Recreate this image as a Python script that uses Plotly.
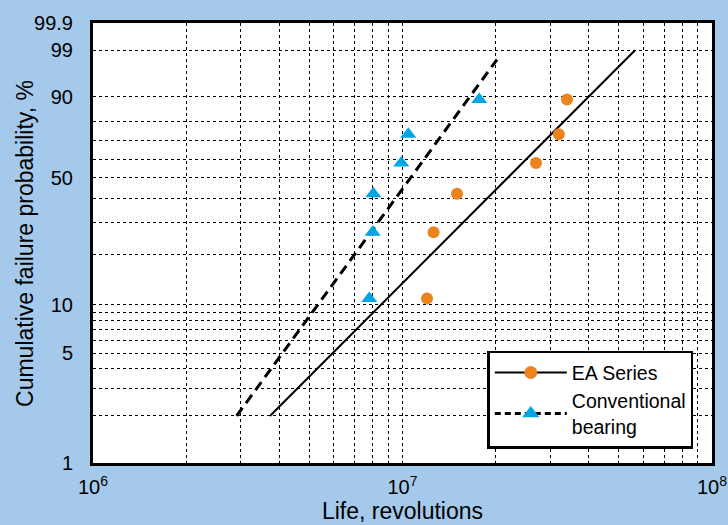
import numpy as np
import plotly.graph_objects as go

# ---- data ----
ea_life = [1.20e7, 1.26e7, 1.50e7, 2.70e7, 3.20e7, 3.40e7]
ea_prob = [10.9, 26.6, 42.2, 57.8, 73.4, 89.1]
conv_life = [7.81e6, 8.01e6, 8.05e6, 9.91e6, 1.044e7, 1.77e7]
conv_prob = [10.9, 26.6, 42.2, 57.8, 73.4, 89.1]

ea_fit_life = [3.73e6, 5.64e7]
ea_fit_prob = [2.0, 99.0]
conv_fit_life = [2.91e6, 2.02e7]
conv_fit_prob = [2.0, 98.2]

y_grid = [2, 3, 4, 5, 6, 7, 8, 9, 10, 20, 30, 40, 50, 60, 70, 80, 90, 99]
y_label_vals = [1, 5, 10, 50, 90, 99, 99.9]
y_label_text = ["1", "5", "10", "50", "90", "99", "99.9"]
x_decades = [1e6, 1e7, 1e8]
x_decade_labels = ["10<sup>6</sup>", "10<sup>7</sup>", "10<sup>8</sup>"]
x_grid = [m * d for d in [1e6, 1e7] for m in range(2, 11)]


def weib(p):
    p = np.asarray(p, dtype=float) / 100.0
    return np.log(-np.log(1.0 - p))


orange = "#EB841E"
blue = "#00A5E3"
bg = "#A4C9EB"

fig = go.Figure()

# fitted lines
fig.add_trace(go.Scatter(x=ea_fit_life, y=weib(ea_fit_prob), mode="lines",
                         line=dict(color="black", width=2), showlegend=False,
                         hoverinfo="skip"))
fig.add_trace(go.Scatter(x=conv_fit_life, y=weib(conv_fit_prob), mode="lines",
                         line=dict(color="black", width=3, dash="10px,6px"),
                         showlegend=False, hoverinfo="skip"))

# points
fig.add_trace(go.Scatter(x=ea_life, y=weib(ea_prob), mode="markers",
                         marker=dict(symbol="circle", size=12, color=orange),
                         showlegend=False))
fig.add_trace(go.Scatter(x=conv_life, y=weib(conv_prob), mode="markers",
                         marker=dict(symbol="triangle-up", size=14, color=blue),
                         showlegend=False))

# legend entries
fig.add_trace(go.Scatter(x=[None], y=[None], mode="lines+markers", name="EA Series",
                         line=dict(color="black", width=2),
                         marker=dict(symbol="circle", size=13, color=orange)))
fig.add_trace(go.Scatter(x=[None], y=[None], mode="lines+markers",
                         name="Conventional<br>bearing",
                         line=dict(color="black", width=3, dash="6px,4px"),
                         marker=dict(symbol="triangle-up", size=15, color=blue)))

font = "Liberation Sans, Arial, sans-serif"

grid_style = dict(showgrid=True, gridcolor="black", griddash="dot", gridwidth=1)

fig.update_layout(
    width=728, height=525,
    paper_bgcolor=bg, plot_bgcolor="white",
    margin=dict(l=93, r=16, t=23, b=62),
    font=dict(family=font, size=19, color="black"),
    showlegend=True,
    legend=dict(x=0.637, y=0.255, xanchor="left", yanchor="top",
                bgcolor="white", bordercolor="black", borderwidth=2.5,
                font=dict(size=19.5), itemwidth=72, tracegroupgap=0),
    xaxis=dict(type="log", range=[6, 8], tickmode="array",
               tickvals=x_decades, ticktext=x_decade_labels,
               showgrid=False,
               minor=dict(tickmode="array", tickvals=x_grid, ticks="", **grid_style),
               showline=True, linecolor="black", linewidth=3, mirror=True,
               ticks="", zeroline=False, tickfont=dict(size=20),
               ticklabelstandoff=4, automargin=False,
               title=dict(text="Life, revolutions", font=dict(size=23), standoff=5)),
    yaxis=dict(range=[float(weib(1)), float(weib(99.9))], tickmode="array",
               tickvals=list(weib(y_label_vals)), ticktext=y_label_text,
               showgrid=False,
               minor=dict(tickmode="array", tickvals=list(weib(y_grid)), ticks="",
                          **grid_style),
               showline=True, linecolor="black", linewidth=3, mirror=True,
               ticks="", zeroline=False, tickfont=dict(size=20),
               ticklabelstandoff=13, automargin=False),
    annotations=[dict(text="Cumulative failure probability, %", textangle=-90,
                      xref="paper", yref="paper", x=-0.1099, y=0.5,
                      xanchor="center", yanchor="middle", showarrow=False,
                      font=dict(size=23))],
)

fig.write_html("out.html")
